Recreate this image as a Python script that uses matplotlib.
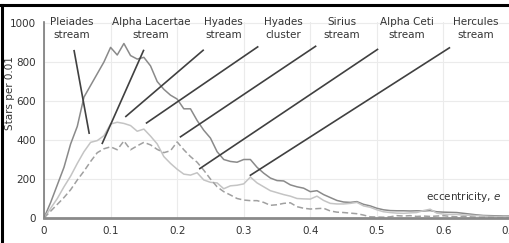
import numpy as np
import matplotlib
matplotlib.use("Agg")
from matplotlib import pyplot as plt
from matplotlib.lines import Line2D

# eccentricity bins, width 0.01
ecc = np.round(np.arange(0, 0.71, 0.01), 2)

# dark solid curve
allStars = [0, 80, 170, 260, 380, 470, 620, 680, 740, 800,
            875, 836, 895, 833, 815, 824, 780, 700, 660, 630,
            610, 560, 560, 500, 450, 410, 340, 300, 290, 286,
            300, 300, 260, 230, 205, 192, 190, 170, 160, 153,
            135, 140, 120, 105, 90, 82, 80, 84, 70, 62,
            50, 42, 38, 37, 37, 36, 37, 36, 38, 32,
            30, 29, 28, 24, 20, 16, 13, 12, 11, 10, 10]
# light solid curve
lightStars = [0, 50, 100, 160, 215, 280, 340, 388, 397, 422,
              482, 491, 485, 474, 445, 456, 420, 380, 315, 280,
              250, 225, 220, 232, 195, 183, 180, 150, 165, 168,
              175, 210, 180, 160, 140, 130, 120, 112, 100, 98,
              97, 112, 90, 75, 72, 72, 75, 80, 62, 55,
              42, 32, 28, 25, 24, 26, 28, 38, 45, 25,
              20, 18, 18, 15, 14, 12, 10, 8, 7, 6, 6]
# dashed curve
dashStars = [0, 35, 70, 105, 145, 195, 240, 290, 335, 355,
             365, 350, 395, 350, 370, 388, 375, 352, 335, 345,
             390, 350, 315, 286, 245, 200, 160, 135, 118, 100,
             92, 89, 89, 80, 65, 68, 75, 78, 58, 50,
             46, 48, 50, 36, 30, 28, 25, 22, 15, 6,
             5, 4, 6, 12, 10, 12, 8, 10, 8, 10,
             12, 8, 6, 8, 6, 4, 3, 3, 2, 2, 2]

# stream labels: text x, pointer start (e, n), pointer end (e, n)
labels  = ["Pleiades\nstream", "Alpha Lacertae\nstream", "Hyades\nstream",
           "Hyades\ncluster", "Sirius\nstream", "Alpha Ceti\nstream",
           "Hercules\nstream"]
labelX  = [0.042, 0.161, 0.270, 0.360, 0.447, 0.545, 0.649]
lineX0  = [0.045, 0.150, 0.240, 0.322, 0.409, 0.502, 0.610]
lineY0  = [862, 863, 863, 880, 883, 867, 875]
lineX1  = [0.068, 0.087, 0.122, 0.153, 0.204, 0.233, 0.309]
lineY1  = [431, 379, 518, 485, 414, 251, 217]

xTicks = [0, 0.1, 0.2, 0.3, 0.4, 0.5, 0.6, 0.7]
xTickLabels = ["0", "0.1", "0.2", "0.3", "0.4", "0.5", "0.6", "0.7"]
yTicks = [0, 200, 400, 600, 800, 1000]

plt.rcParams['font.family'] = ['DejaVu Sans']

fig = plt.figure(figsize=(5.1, 2.43), dpi=100)
ax = fig.add_axes([0.0863, 0.1029, 0.9137, 0.808])

ax.plot(ecc, allStars, color="#8a8a8a", lw=1.1)
ax.plot(ecc, lightStars, color="#c4c4c4", lw=1.1)
ax.plot(ecc, dashStars, color="#a0a0a0", lw=1.1, ls=(0, (4, 2)))

for i in range(len(labels)):
    ax.plot([lineX0[i], lineX1[i]], [lineY0[i], lineY1[i]],
            color="#404040", lw=1.2, clip_on=False, solid_capstyle="butt")
    ax.text(labelX[i], 972, labels[i], ha="center", va="center",
            fontsize=7.5, color="#333333", linespacing=1.45)

ax.text(0.687, 110, "eccentricity, $\\it{e}$", ha="right", va="center",
        fontsize=7.5, color="#333333")

ax.set_xlim(0, 0.7)
ax.set_ylim(0, 1007)
ax.set_xticks(xTicks)
ax.set_xticklabels(xTickLabels)
ax.set_yticks(yTicks)
ax.tick_params(axis="both", length=0, labelsize=7.5, colors="#333333")
ax.tick_params(axis="x", pad=6)
ax.tick_params(axis="y", pad=6)
ax.grid(True, color="#ebebeb", lw=0.8)
ax.set_axisbelow(True)
for side in ["top", "right"]:
    ax.spines[side].set_visible(False)
ax.spines["left"].set_color("#7a7a7a")
ax.spines["left"].set_linewidth(1.2)
ax.spines["bottom"].set_color("#8a8a8a")
ax.spines["bottom"].set_linewidth(2.0)

fig.text(0.02, 1 - 93 / 243, "Stars per 0.01", rotation=90, ha="center",
         va="center", fontsize=7.5, color="#333333")

# black frame remnants at top and left
fig.add_artist(Line2D([0, 1], [1 - 5 / 243, 1 - 5 / 243], transform=fig.transFigure,
                      color="black", lw=2.2))
fig.add_artist(Line2D([2 / 510, 2 / 510], [0, 1 - 5 / 243], transform=fig.transFigure,
                      color="black", lw=2.2))

fig.savefig("out.png", dpi=100)
